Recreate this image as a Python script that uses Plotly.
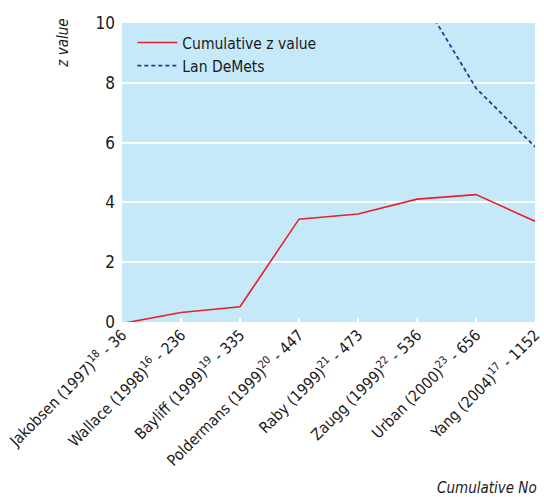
import plotly.graph_objects as go

studies = ["Jakobsen (1997)<sup>18</sup> - 36", "Wallace (1998)<sup>16</sup> - 236",
           "Bayliff (1999)<sup>19</sup> - 335", "Poldermans (1999)<sup>20</sup> - 447",
           "Raby (1999)<sup>21</sup> - 473", "Zaugg (1999)<sup>22</sup> - 536",
           "Urban (2000)<sup>23</sup> - 656", "Yang (2004)<sup>17</sup> - 1152"]
cumulative_z = [-0.05, 0.32, 0.51, 3.44, 3.61, 4.11, 4.26, 3.37]
lan_demets = [None, None, None, None, None, 11.1, 7.82, 5.86]
y_ticks = [0, 2, 4, 6, 8, 10]

FONT = "DejaVu Sans Condensed, Liberation Sans Narrow, sans-serif"
xs = list(range(len(studies)))

fig = go.Figure()
fig.add_trace(go.Scatter(x=xs, y=cumulative_z, mode="lines", name="Cumulative z value",
                         line=dict(color="#e8202a", width=1.6), cliponaxis=True))
fig.add_trace(go.Scatter(x=xs, y=lan_demets, mode="lines", name="Lan DeMets",
                         line=dict(color="#2b3990", width=1.8, dash="4px,3px"), cliponaxis=True,
                         connectgaps=False))

fig.update_layout(
    width=544, height=497,
    margin=dict(l=122, r=9, t=23, b=175),
    paper_bgcolor="white", plot_bgcolor="#c6e9f9",
    font=dict(family=FONT, size=15, color="#1a1a1a"),
    showlegend=True,
    legend=dict(x=0.025, y=0.99, xanchor="left", yanchor="top", bgcolor="rgba(0,0,0,0)",
                font=dict(size=15.5), itemwidth=40, tracegroupgap=4),
    xaxis=dict(tickmode="array", tickvals=xs, ticktext=studies, tickangle=-45,
               range=[0, len(studies) - 1], showgrid=False, zeroline=False,
               ticks="inside", ticklen=4, tickcolor="white", tickwidth=1.5,
               tickfont=dict(size=15.5), showline=False, automargin=False),
    yaxis=dict(range=[0, 10], tickvals=y_ticks, showgrid=True, gridcolor="white",
               gridwidth=2, zeroline=False, showline=False, ticks="",
               tickfont=dict(size=17), ticklabelstandoff=6, automargin=False),
    annotations=[
        dict(text="<i>z value</i>", x=-0.145, y=1.02, xref="paper", yref="paper",
             xanchor="center", yanchor="top", showarrow=False,
             textangle=-90, font=dict(size=15)),
        dict(text="<i>Cumulative No</i>", x=1.01, y=-0.555, xref="paper", yref="paper",
             xanchor="right", yanchor="middle", showarrow=False, font=dict(size=15)),
    ],
)
fig.write_html("out.html", config={"displayModeBar": False},
               post_script="document.body.style.margin='0';")
